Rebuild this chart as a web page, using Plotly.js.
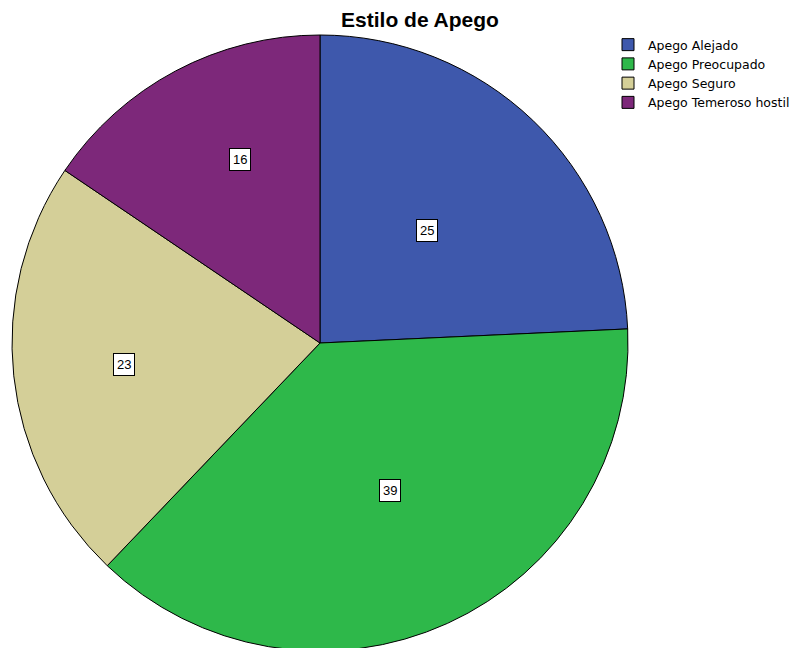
<!DOCTYPE html>
<html>
<head>
<meta charset="utf-8">
<script src="https://cdn.plot.ly/plotly-3.0.1.min.js"></script>
<style>
html,body{margin:0;padding:0;overflow:hidden;background:#fff;}
#chart{width:797px;height:652px;}
</style>
</head>
<body>
<div id="chart"></div>
<script>
// Data
const categories = ["Apego Alejado", "Apego Preocupado", "Apego Seguro", "Apego Temeroso hostil"];
const counts = [25, 39, 23, 16];
const chartTitle = "Estilo de Apego";

// Styles (label placement relative to each slice's mid-angle)
const colors = ["#3e58ac", "#2eb84a", "#d4cf98", "#7d287a"];
const labelRadius = [0.505, 0.53, 0.64, 0.65];
const labelAngleShift = [0, -1, 0, 4.4];

const W = 797, H = 652;
const margin = {l: 0, r: 0, t: 34, b: 0};
const domX = [12 / W, 628 / W];
const domY = [0, 1];

// compute label positions from data angles
const plotW = W - margin.l - margin.r, plotH = H - margin.t - margin.b;
const dw = (domX[1] - domX[0]) * plotW, dh = (domY[1] - domY[0]) * plotH;
const R = Math.min(dw, dh) / 2;
const cxPaper = (domX[0] + domX[1]) / 2, cyPaper = (domY[0] + domY[1]) / 2;
const total = counts.reduce((a, b) => a + b, 0);
let cum = 0;
const annotations = counts.map((v, i) => {
  const mid = (cum + v / 2) / total * 2 * Math.PI + labelAngleShift[i] * Math.PI / 180;
  cum += v;
  const dx = R * labelRadius[i] * Math.sin(mid);
  const dy = R * labelRadius[i] * Math.cos(mid);
  return {
    x: cxPaper + dx / plotW, y: cyPaper + dy / plotH,
    xref: "paper", yref: "paper", xanchor: "center", yanchor: "middle",
    showarrow: false,
    text: String(v),
    font: {family: "Liberation Sans, Arial, sans-serif", size: 13, color: "#000"},
    bgcolor: "#ffffff", bordercolor: "#000000", borderwidth: 1, borderpad: 3
  };
});

const trace = {
  type: "pie",
  labels: categories,
  values: counts,
  sort: false,
  direction: "clockwise",
  rotation: 0,
  marker: {colors: colors, line: {color: "#000000", width: 1}},
  textinfo: "none",
  domain: {x: domX, y: domY},
  hoverinfo: "label+value"
};

const layout = {
  width: W, height: H,
  margin: margin,
  paper_bgcolor: "#ffffff",
  title: {
    text: "<b>" + chartTitle + "</b>",
    font: {family: "Liberation Sans, Arial, sans-serif", size: 21, color: "#000"},
    x: 420 / W, xanchor: "center", xref: "paper",
    y: 1 - 20 / H, yanchor: "middle", yref: "container"
  },
  showlegend: true,
  legend: {
    x: 608 / W, xanchor: "left",
    y: 1 + 4 / 618, yanchor: "top",
    font: {family: "DejaVu Sans, sans-serif", size: 12.5, color: "#000"},
    bgcolor: "rgba(0,0,0,0)",
    traceorder: "normal",
    itemwidth: 30
  },
  annotations: annotations
};

Plotly.newPlot("chart", [trace], layout, {displayModeBar: false, staticPlot: true});
</script>
</body>
</html>
